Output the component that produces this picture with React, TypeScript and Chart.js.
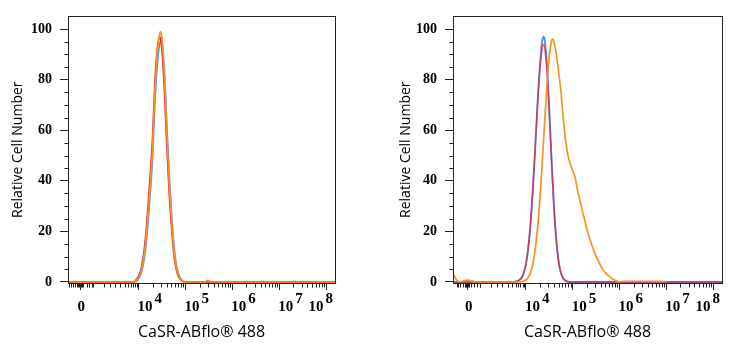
import React, { useEffect, useRef } from "react";
import { Chart, registerables } from "chart.js";

Chart.register(...registerables);
document.body.style.margin = "0";

// ---------- axis / tick definitions ----------
const yMajorTicks = [0, 20, 40, 60, 80, 100];
const yMinorTicks = [5, 10, 15, 25, 30, 35, 45, 50, 55, 65, 70, 75, 85, 90, 95];
// x axis is in display units: 10^k sits at k, "0" sits at 2.76 (biexponential-like)
const xMajorTicks = [2.76, 4, 5, 6, 7, 8];
const xMajorBase = ["0", "10", "10", "10", "10", "10"];
const xMajorExp = ["", "4", "5", "6", "7", "8"];
const xLinearMinorTicks = [2.52, 2.56, 2.6, 2.65, 2.69, 2.71, 2.73, 2.75, 2.77, 2.79, 2.82, 2.9, 2.95, 3.01, 3.03, 3.26, 3.39, 3.5, 3.61, 3.71, 3.78, 3.84, 3.88, 3.93, 3.97];
const xLogDecades = [4, 5, 6, 7];
const xLogSteps = [2, 3, 4, 5, 6, 7, 8, 9];

const xTitle = "CaSR-ABflo® 488";
const yTitle = "Relative Cell Number";

// ---------- left panel data ----------
const leftX = [2.497, 3.85, 3.9, 3.95, 4.0, 4.05, 4.1, 4.15, 4.2, 4.25, 4.3, 4.35, 4.4, 4.45, 4.47, 4.5, 4.55, 4.6, 4.65, 4.7, 4.75, 4.8, 4.85, 4.9, 4.95, 5.0, 5.4, 5.48, 5.56, 8.19];
const leftBlue = [0, 0, 0, 0.4, 1.3, 3.2, 6.9, 13, 23, 35, 49, 71, 86, 94, 95, 95, 84, 64, 44, 28, 15.5, 7.5, 3.3, 1.3, 0.4, 0, 0, 0, 0, 0];
const leftRed = [0, 0, 0, 1, 2.2, 4.8, 9.6, 17.5, 29, 42, 57, 79, 92, 97, 96, 92, 77, 56, 37, 23, 12, 5.5, 2.2, 0.8, 0.1, 0, 0, 0, 0, 0];
const leftOrange = [0, 0, 0, 0.7, 1.7, 3.9, 8.1, 15, 26, 38, 53, 76, 90.5, 98, 99, 96, 82, 61, 41, 26, 14, 6.5, 2.8, 1, 0.2, 0, 0, 0.6, 0, 0];

// ---------- right panel data ----------
const rightX = [2.443, 3.7, 3.75, 3.8, 3.85, 3.9, 3.95, 4.0, 4.05, 4.1, 4.15, 4.2, 4.25, 4.3, 4.35, 4.38, 4.4, 4.45, 4.5, 4.55, 4.6, 4.65, 4.7, 4.75, 4.8, 4.85, 4.9, 4.95, 5.0, 8.19];
const rightBlue = [0, 0, 0.1, 0.2, 0.6, 1.4, 3.2, 6.8, 13.1, 23, 36.7, 53.5, 71, 86, 95.4, 97, 96, 86, 68.6, 48.3, 30.2, 16.7, 8.2, 3.6, 1.4, 0.5, 0.1, 0, 0, 0];
const rightRed = [0, 0, 0.1, 0.3, 0.7, 1.6, 3.5, 7.2, 13.6, 23.5, 37, 53, 70, 84, 92.5, 94, 93, 83, 66, 46.5, 29, 16, 7.8, 3.4, 1.3, 0.4, 0.1, 0, 0, 0];
const rightOrangeX = [2.443, 2.48, 2.52, 2.56, 2.62, 2.7, 2.76, 2.82, 2.9, 3.0, 3.85, 3.9, 3.95, 4.0, 4.05, 4.1, 4.15, 4.2, 4.25, 4.3, 4.35, 4.4, 4.45, 4.5, 4.55, 4.57, 4.6, 4.65, 4.7, 4.75, 4.8, 4.85, 4.9, 4.95, 5.0, 5.05, 5.1, 5.15, 5.2, 5.25, 5.3, 5.35, 5.4, 5.45, 5.5, 5.55, 5.6, 5.65, 5.7, 5.75, 5.8, 5.85, 5.9, 5.95, 6.0, 6.1, 6.5, 7.0];
const rightOrangeY = [3.3, 2.0, 0.8, 0.1, 0.2, 0.6, 0.7, 0.5, 0.1, 0, 0, 0.1, 0.4, 0.8, 1.8, 3.8, 7.3, 13, 21.5, 33, 47.3, 63, 77.8, 89.3, 95.4, 96, 95, 90, 83, 75, 64.5, 55.5, 50, 46.5, 44, 41.5, 36.6, 32.5, 28.6, 25, 21.3, 18, 15.2, 12.4, 10.2, 8.3, 6.4, 4.8, 3.6, 2.7, 1.9, 1.2, 0.7, 0.3, 0.1, 0.3, 0.3, 0.2];

const BLUE = "#4E8CF2";
const RED = "#E8222B";
const RED_SOFT = "rgba(232,34,43,0.7)";
const ORANGE = "#F7931E";
const AXIS = "#222222";
const TICK_FONT = "'Liberation Serif'";

const pts = (xs: number[], ys: number[]) => xs.map((x, i) => ({ x, y: ys[i] }));

const flowAxesPlugin = {
  id: "flowAxes",
  afterDraw(chart: any) {
    const { ctx, chartArea: a, scales } = chart;
    const xs = scales.x;
    const ys = scales.y;
    ctx.save();
    ctx.strokeStyle = AXIS;
    ctx.lineWidth = 1;
    ctx.strokeRect(Math.round(a.left) + 0.5, Math.round(a.top) + 0.5, Math.round(a.right - a.left), Math.round(a.bottom - a.top));
    const minors: number[] = [...xLinearMinorTicks];
    xLogDecades.forEach((d) => xLogSteps.forEach((k) => minors.push(d + Math.log10(k))));
    ctx.beginPath();
    const bottom = Math.round(a.bottom) + 0.5;
    minors.forEach((v) => {
      if (v < xs.min || v > xs.max) return;
      const px = Math.round(xs.getPixelForValue(v)) + 0.5;
      ctx.moveTo(px, bottom);
      ctx.lineTo(px, bottom + 4);
    });
    const left = Math.round(a.left) + 0.5;
    yMinorTicks.forEach((v) => {
      const py = Math.round(ys.getPixelForValue(v)) + 0.5;
      ctx.moveTo(left - 4, py);
      ctx.lineTo(left, py);
    });
    ctx.stroke();

    ctx.fillStyle = "#000";
    ctx.font = "bold 15px " + TICK_FONT;
    ctx.textBaseline = "alphabetic";
    const baseY = a.bottom + 28;
    xMajorTicks.forEach((v, i) => {
      const px = xs.getPixelForValue(v);
      const base = xMajorBase[i];
      const exp = xMajorExp[i];
      if (!exp) {
        ctx.textAlign = "center";
        ctx.fillText(base, px + 1, baseY);
        return;
      }
      const wb = ctx.measureText(base).width;
      const we = ctx.measureText(exp).width;
      const total = wb + 2 + we;
      let lx = px - 1;
      if (lx + total > a.right - 2) lx = a.right - 2 - total;
      ctx.textAlign = "left";
      ctx.fillText(base, lx, baseY);
      ctx.fillText(exp, lx + wb + 2, baseY - 8);
    });
    ctx.restore();
  },
};

type PanelProps = {
  width: number;
  xMin: number;
  yAxisWidth: number;
  padRight: number;
  yTitlePad: number;
  datasets: any[];
};

function Panel({ width, xMin, yAxisWidth, padRight, yTitlePad, datasets }: PanelProps) {
  const ref = useRef<HTMLCanvasElement | null>(null);
  useEffect(() => {
    if (!ref.current) return;
    const chart = new Chart(ref.current, {
      type: "line",
      data: { datasets },
      plugins: [flowAxesPlugin],
      options: {
        animation: false,
        responsive: false,
        devicePixelRatio: 1,
        layout: { padding: { left: 0, right: padRight, top: 15, bottom: 0 } },
        plugins: { legend: { display: false }, tooltip: { enabled: false } },
        elements: { point: { radius: 0 }, line: { borderWidth: 1.7, cubicInterpolationMode: "monotone" } },
        scales: {
          x: {
            type: "linear",
            min: xMin,
            max: 8.19,
            border: { display: false },
            grid: { drawOnChartArea: false, drawTicks: true, tickLength: 7, color: AXIS },
            ticks: { display: false },
            afterBuildTicks: (s: any) => {
              s.ticks = xMajorTicks.map((v) => ({ value: v }));
            },
            afterFit: (s: any) => {
              s.height = 67;
            },
            title: {
              display: true,
              text: xTitle,
              color: "#000",
              font: { family: "'Open Sans'", size: 16 },
              padding: { top: 0, bottom: 8.4 },
            },
          },
          y: {
            type: "linear",
            min: -0.4,
            max: 105,
            border: { display: false },
            grid: { drawOnChartArea: false, drawTicks: true, tickLength: 8, color: AXIS },
            ticks: {
              autoSkip: false,
              padding: 8,
              color: "#000",
              font: { family: TICK_FONT, size: 14, weight: "bold" },
              callback: (v: any) => String(v),
            },
            afterBuildTicks: (s: any) => {
              s.ticks = yMajorTicks.map((v) => ({ value: v }));
            },
            afterFit: (s: any) => {
              s.width = yAxisWidth;
            },
            title: {
              display: true,
              text: yTitle,
              color: "#000",
              font: { family: "'Open Sans'", size: 14 },
              padding: { top: yTitlePad, bottom: 0 },
            },
          },
        },
      },
    });
    return () => chart.destroy();
  }, []);
  return (
    <div style={{ width, height: 350 }}>
      <canvas ref={ref} width={width} height={350} />
    </div>
  );
}

export default function App() {
  const leftSets = [
    { data: pts(leftX, leftOrange), borderColor: ORANGE },
    { data: pts(leftX, leftRed), borderColor: RED },
    { data: pts(leftX, leftBlue), borderColor: BLUE },
  ];
  const rightSets = [
    { data: pts(rightOrangeX, rightOrangeY), borderColor: ORANGE },
    { data: pts(rightX, rightRed), borderColor: RED_SOFT, borderWidth: 1.6 },
    { data: pts(rightX, rightBlue), borderColor: BLUE, borderWidth: 1.8 },
  ];
  return (
    <div style={{ display: "flex", width: 739, height: 350, background: "#fff" }}>
      <Panel width={370} xMin={2.497} yAxisWidth={68} padRight={35} yTitlePad={9.6} datasets={leftSets} />
      <Panel width={369} xMin={2.443} yAxisWidth={83} padRight={17} yTitlePad={28.1} datasets={rightSets} />
    </div>
  );
}
